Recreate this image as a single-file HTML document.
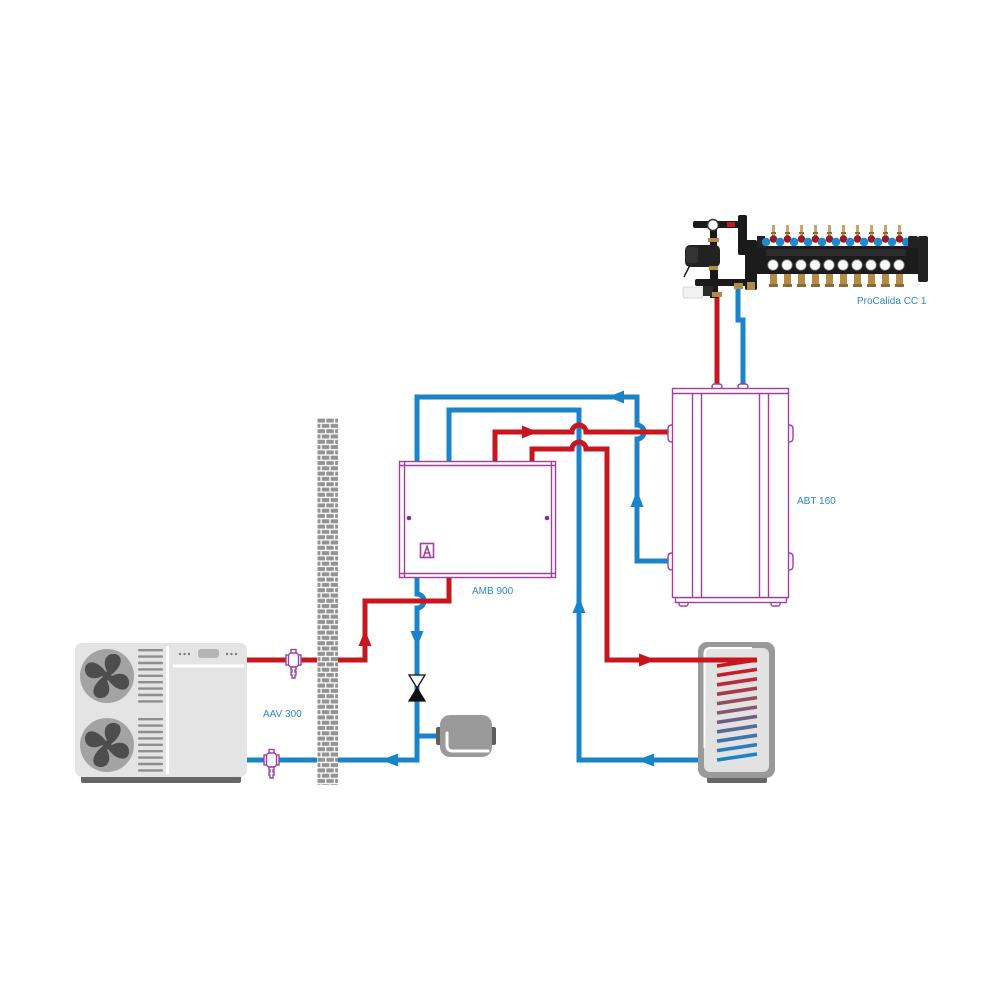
<!DOCTYPE html>
<html>
<head>
<meta charset="utf-8">
<style>
html,body{margin:0;padding:0;background:#fff;}
svg{display:block;}
text{font-family:"Liberation Sans",sans-serif;}
</style>
</head>
<body>
<svg width="1000" height="1000" viewBox="0 0 1000 1000" xmlns="http://www.w3.org/2000/svg">
<defs>
<pattern id="brick" x="317" y="418" width="21" height="10.6" patternUnits="userSpaceOnUse">
<rect x="0" y="0" width="21" height="10.6" fill="#fff"/>
<rect x="0.5" y="0.6" width="7.5" height="4" fill="#939393"/>
<rect x="9.3" y="0.6" width="7.5" height="4" fill="#939393"/>
<rect x="18.1" y="0.6" width="2.9" height="4" fill="#939393"/>
<rect x="0.5" y="5.9" width="3" height="4" fill="#939393"/>
<rect x="4.8" y="5.9" width="7.5" height="4" fill="#939393"/>
<rect x="13.6" y="5.9" width="7.4" height="4" fill="#939393"/>
</pattern>
</defs>

<!-- ============ PIPES ============ -->
<g fill="none" stroke-width="5" stroke-linejoin="miter">
  <path d="M417,461 V397 H637 V425 a7,7 0 0 1 0,14 V561 H672" stroke="#1b84c9"/>
  <path d="M449,461 V410 H579 V760 H717" stroke="#1b84c9"/>
  <path d="M495,461 V432 H572 a7,7 0 0 1 14,0 H672" stroke="#c8161e"/>
  <path d="M532,461 V449 H572 a7,7 0 0 1 14,0 H607 V660 H757" stroke="#c8161e"/>
  <path d="M417,577 V594 a7,7 0 0 1 0,14 V760 H330" stroke="#1b84c9"/>
  <path d="M417,736 H440" stroke="#1b84c9"/>
  <path d="M449,577 V601 H365 V660 H330" stroke="#c8161e"/>
  <path d="M245,660 H320" stroke="#c8161e"/>
  <path d="M245,760 H320" stroke="#1b84c9"/>
  <path d="M717,296 V388" stroke="#c8161e"/>
  <path d="M738,288 V320 H743 V388" stroke="#1b84c9"/>
</g>

<!-- arrows -->
<g>
  <polygon points="538,432 522,425.5 522,438.5" fill="#c8161e"/>
  <polygon points="608,397 624,390.5 624,403.5" fill="#1b84c9"/>
  <polygon points="637,490 630.5,507 643.5,507" fill="#1b84c9"/>
  <polygon points="579,597 572.5,613 585.5,613" fill="#1b84c9"/>
  <polygon points="365,630 358.5,646 371.5,646" fill="#c8161e"/>
  <polygon points="417,647 410.5,631 423.5,631" fill="#1b84c9"/>
  <polygon points="381,760 398,753.5 398,766.5" fill="#1b84c9"/>
  <polygon points="656,660 639,653.5 639,666.5" fill="#c8161e"/>
  <polygon points="637,760 654,753.5 654,766.5" fill="#1b84c9"/>
</g>

<!-- valve bowtie -->
<polygon points="409,675 425,675 417,688" fill="#fff" stroke="#111" stroke-width="1.3"/>
<polygon points="417,688 409,701 425,701" fill="#111" stroke="#111" stroke-width="1.3"/>

<!-- expansion vessel -->
<rect x="436" y="727" width="6" height="18" rx="2" fill="#5e5e5e"/>
<rect x="490" y="727" width="6" height="18" rx="2" fill="#5e5e5e"/>
<rect x="440" y="715" width="52" height="42" rx="10" fill="#9a9a9a"/>
<path d="M447,733 V745 q0,6 6,6 H488" fill="none" stroke="#fff" stroke-width="3" stroke-linecap="round"/>

<!-- ============ WALL ============ -->
<rect x="317" y="418" width="21" height="367" fill="url(#brick)"/>

<!-- ============ HEAT PUMP ============ -->
<rect x="81" y="774" width="160" height="9" rx="2" fill="#666"/>
<rect x="75" y="643" width="172" height="134" rx="7" fill="#e4e4e4"/>
<rect x="166" y="646" width="3" height="128" fill="#fff"/>
<rect x="173" y="664.5" width="71" height="3" fill="#fff"/>
<g fill="#7a7a7a">
  <circle cx="180" cy="654" r="1.2"/><circle cx="184.5" cy="654" r="1.2"/><circle cx="189" cy="654" r="1.2"/>
  <circle cx="227" cy="654" r="1.2"/><circle cx="231.5" cy="654" r="1.2"/><circle cx="236" cy="654" r="1.2"/>
</g>
<rect x="198" y="649" width="21" height="9" rx="3" fill="#b5b5b5"/>
<g fill="#8e8e8e">
  <rect x="138" y="649" width="25" height="2.4" rx="1"/>
  <rect x="138" y="655.4" width="25" height="2.4" rx="1"/>
  <rect x="138" y="661.8" width="25" height="2.4" rx="1"/>
  <rect x="138" y="668.2" width="25" height="2.4" rx="1"/>
  <rect x="138" y="674.6" width="25" height="2.4" rx="1"/>
  <rect x="138" y="681" width="25" height="2.4" rx="1"/>
  <rect x="138" y="687.4" width="25" height="2.4" rx="1"/>
  <rect x="138" y="693.8" width="25" height="2.4" rx="1"/>
  <rect x="138" y="700.2" width="25" height="2.4" rx="1"/>
  <rect x="138" y="718" width="25" height="2.4" rx="1"/>
  <rect x="138" y="724.4" width="25" height="2.4" rx="1"/>
  <rect x="138" y="730.8" width="25" height="2.4" rx="1"/>
  <rect x="138" y="737.2" width="25" height="2.4" rx="1"/>
  <rect x="138" y="743.6" width="25" height="2.4" rx="1"/>
  <rect x="138" y="750" width="25" height="2.4" rx="1"/>
  <rect x="138" y="756.4" width="25" height="2.4" rx="1"/>
  <rect x="138" y="762.8" width="25" height="2.4" rx="1"/>
  <rect x="138" y="769.2" width="25" height="2.4" rx="1"/>
</g>
<g>
  <circle cx="107" cy="676" r="27" fill="#a3a3a3"/>
  <g fill="#4d4d4d" transform="translate(107,676)">
    <circle r="4.5"/>
    <path id="blade" d="M1,-3 C-6,-14 -1,-23 8,-22 C17,-20 15,-9 4,-1 Z"/>
    <use href="#blade" transform="rotate(90)"/>
    <use href="#blade" transform="rotate(180)"/>
    <use href="#blade" transform="rotate(270)"/>
  </g>
  <circle cx="107" cy="745" r="27" fill="#a3a3a3"/>
  <g fill="#4d4d4d" transform="translate(107,745)">
    <circle r="4.5"/>
    <use href="#blade"/>
    <use href="#blade" transform="rotate(90)"/>
    <use href="#blade" transform="rotate(180)"/>
    <use href="#blade" transform="rotate(270)"/>
  </g>
</g>

<!-- filter valves AAV -->
<g fill="#fff" stroke="#a0409e" stroke-width="1.4">
  <rect x="291" y="649.5" width="5" height="4"/>
  <rect x="286" y="655" width="3" height="10"/>
  <rect x="298" y="655" width="3" height="10"/>
  <rect x="288.5" y="653" width="10" height="14" rx="3"/>
  <path d="M291,667 h5 v3 h-1 v2 h1 v3 h-1 v3 h-3 v-3 h-1 v-3 h1 v-2 h-1 z"/>
</g>
<g fill="#fff" stroke="#a0409e" stroke-width="1.4">
  <rect x="269" y="749.5" width="5" height="4"/>
  <rect x="264" y="755" width="3" height="10"/>
  <rect x="276" y="755" width="3" height="10"/>
  <rect x="266.5" y="753" width="10" height="14" rx="3"/>
  <path d="M269,767 h5 v3 h-1 v2 h1 v3 h-1 v3 h-3 v-3 h-1 v-3 h1 v-2 h-1 z"/>
</g>

<!-- ============ AMB 900 ============ -->
<g fill="none" stroke="#a0409e" stroke-width="1.4">
  <rect x="399.5" y="461.5" width="156" height="116" fill="#fff"/>
  <line x1="399.5" y1="465.5" x2="555.5" y2="465.5"/>
  <line x1="399.5" y1="573.5" x2="555.5" y2="573.5"/>
  <line x1="404.5" y1="461.5" x2="404.5" y2="577.5"/>
  <line x1="551.5" y1="461.5" x2="551.5" y2="577.5"/>
  <rect x="420.5" y="543.5" width="13" height="14" stroke-width="1.6"/>
  <path d="M423.5,557 L427,546.5 L430.5,557 M425,553 h4" stroke-width="1.6"/>
</g>
<circle cx="409" cy="518" r="2.3" fill="#8a2a8a"/>
<circle cx="547" cy="518" r="2.3" fill="#8a2a8a"/>

<!-- ============ ABT 160 ============ -->
<g fill="#fff" stroke="#a0409e" stroke-width="1.4">
  <rect x="712" y="384" width="10" height="5" rx="2.5"/>
  <rect x="738" y="384" width="10" height="5" rx="2.5"/>
  <rect x="679" y="601" width="9" height="5" rx="2"/>
  <rect x="771" y="601" width="9" height="5" rx="2"/>
  <rect x="675.5" y="597.5" width="111" height="5"/>
  <path d="M672,425 q-4,0 -4,4 v9 q0,4 4,4"/>
  <path d="M672,553 q-4,0 -4,4 v9 q0,4 4,4"/>
  <path d="M789,425 q4,0 4,4 v9 q0,4 -4,4"/>
  <path d="M789,553 q4,0 4,4 v9 q0,4 -4,4"/>
  <rect x="672.5" y="388.5" width="116" height="209"/>
</g>
<g stroke="#a0409e" stroke-width="1.4">
  <line x1="672.5" y1="393.5" x2="788.5" y2="393.5"/>
  <line x1="692.5" y1="393.5" x2="692.5" y2="597.5"/>
  <line x1="701.5" y1="393.5" x2="701.5" y2="597.5"/>
  <line x1="759.5" y1="393.5" x2="759.5" y2="597.5"/>
  <line x1="768.5" y1="393.5" x2="768.5" y2="597.5"/>
</g>

<!-- ============ STORAGE TANK ============ -->
<rect x="707" y="774" width="60" height="9" rx="2" fill="#666"/>
<rect x="698" y="642" width="77" height="136" rx="9" fill="#999"/>
<rect x="704" y="648" width="65" height="124" rx="6" fill="#e2e2e2"/>
<path d="M704.5,748 V654 q0,-6 6,-6 H752" fill="none" stroke="#fff" stroke-width="2"/>
<g stroke-width="3.6" stroke-linecap="butt">
  <line x1="607" y1="660" x2="757" y2="660" stroke="#c8161e" stroke-width="5"/>
  <line x1="717" y1="666" x2="757" y2="660" stroke="#c8161e"/>
  <line x1="717" y1="675.4" x2="757" y2="669.4" stroke="#c21e2e"/>
  <line x1="717" y1="684.8" x2="757" y2="678.8" stroke="#b82a3c"/>
  <line x1="717" y1="694.2" x2="757" y2="688.2" stroke="#a83a4c"/>
  <line x1="717" y1="703.6" x2="757" y2="697.6" stroke="#984a5e"/>
  <line x1="717" y1="713" x2="757" y2="707" stroke="#86566e"/>
  <line x1="717" y1="722.4" x2="757" y2="716.4" stroke="#6e5e80"/>
  <line x1="717" y1="731.8" x2="757" y2="725.8" stroke="#566a94"/>
  <line x1="717" y1="741.2" x2="757" y2="735.2" stroke="#3e74a8"/>
  <line x1="717" y1="750.6" x2="757" y2="744.6" stroke="#2a7cbc"/>
  <line x1="717" y1="760" x2="757" y2="754" stroke="#1b84c9"/>
</g>

<!-- ============ MANIFOLD ProCalida ============ -->
<g>
  <rect x="693" y="221" width="54" height="7" rx="2" fill="#1a1a1a"/>
  <rect x="727" y="222" width="8" height="5" fill="#c8161e"/>
  <rect x="738" y="215" width="9" height="40" rx="2" fill="#1a1a1a"/>
  <rect x="710" y="226" width="7" height="20" fill="#1a1a1a"/>
  <rect x="708" y="238" width="11" height="4" fill="#b58a45"/>
  <circle cx="713" cy="225" r="5.5" fill="#fff" stroke="#333" stroke-width="1.5"/>
  <rect x="685" y="245" width="35" height="22" rx="5" fill="#222"/>
  <rect x="686" y="247" width="12" height="16" rx="2" fill="#333"/>
  <path d="M690,265 q-4,8 -6,12" fill="none" stroke="#222" stroke-width="1.5"/>
  <rect x="709" y="266" width="9" height="5" fill="#b58a45"/>
  <rect x="710" y="270" width="8" height="28" fill="#1a1a1a"/>
  <rect x="695" y="279" width="60" height="7" rx="2" fill="#1a1a1a"/>
  <rect x="683" y="287" width="20" height="11" rx="2" fill="#f2f2f2" stroke="#ccc" stroke-width="0.8"/>
  <rect x="703" y="286" width="10" height="10" fill="#2a2a2a"/>
  <rect x="712" y="292" width="10" height="5" fill="#b58a45"/>
  <rect x="734" y="283" width="9" height="6" fill="#b58a45"/>
  <rect x="745" y="240" width="12" height="50" rx="2" fill="#1a1a1a"/>
  <rect x="747" y="282" width="8" height="8" fill="#b58a45"/>
  <rect x="752" y="246" width="174" height="28" rx="2" fill="#1c1c1c"/>
  <rect x="918" y="236" width="10" height="46" rx="2" fill="#222"/>
  <rect x="757" y="236" width="8" height="12" fill="#222"/>
  <g id="col">
    <rect x="772" y="225" width="3" height="11" fill="#c9a56a"/>
    <rect x="771" y="232" width="5" height="2" fill="#8a6a3a"/>
    <circle cx="766" cy="242" r="4.2" fill="#1e8ad2"/>
    <circle cx="780" cy="242" r="4.2" fill="#1e8ad2"/>
    <circle cx="773.5" cy="239" r="3.8" fill="#9a1a24"/>
    <rect x="766" y="249" width="14" height="7" fill="#2c2c2c"/>
    <circle cx="773" cy="265" r="5.3" fill="#fafafa" stroke="#777" stroke-width="0.8"/>
    <rect x="770" y="274" width="7" height="10" fill="#b58a45"/>
    <rect x="769" y="284" width="9" height="3" fill="#8a6a3a"/>
  </g>
  <use href="#col" x="14"/>
  <use href="#col" x="28"/>
  <use href="#col" x="42"/>
  <use href="#col" x="56"/>
  <use href="#col" x="70"/>
  <use href="#col" x="84"/>
  <use href="#col" x="98"/>
  <use href="#col" x="112"/>
  <use href="#col" x="126"/>
  <rect x="908" y="236" width="10" height="12" rx="2" fill="#222"/>
</g>

<!-- ============ LABELS ============ -->
<g fill="#2a88c8" font-size="10">
  <text x="857" y="304">ProCalida CC 1</text>
  <text x="797" y="504">ABT 160</text>
  <text x="472" y="594">AMB 900</text>
  <text x="263" y="717">AAV 300</text>
</g>
</svg>
</body>
</html>
